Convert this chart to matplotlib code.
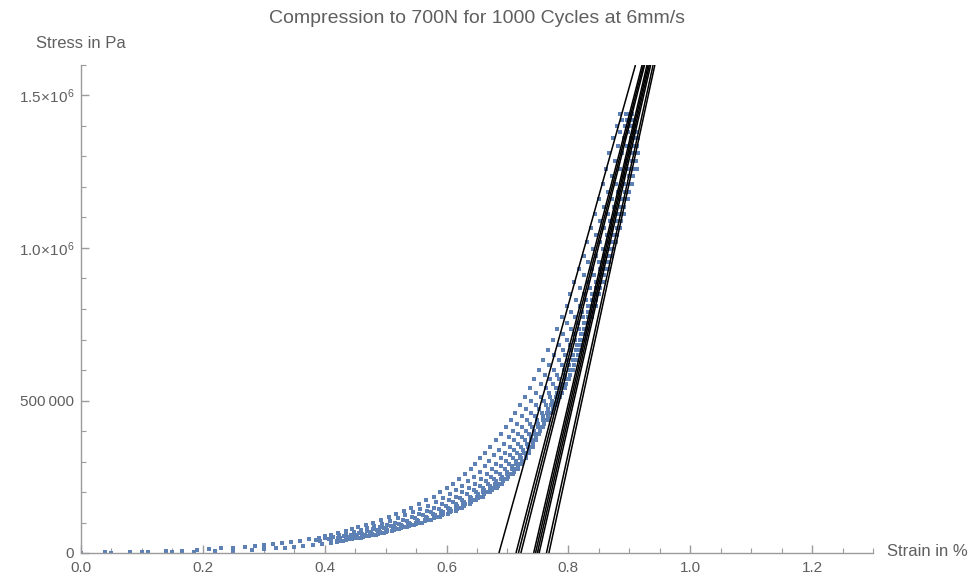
import matplotlib
matplotlib.use("Agg")
import matplotlib.pyplot as plt
from matplotlib.ticker import MultipleLocator, FixedLocator, FixedFormatter
import numpy as np

plt.rcParams['font.family'] = ['Liberation Sans', 'DejaVu Sans']
plt.rcParams['mathtext.fontset'] = 'custom'
plt.rcParams['mathtext.rm'] = 'Liberation Sans'
plt.rcParams['mathtext.it'] = 'Liberation Sans'

# ---- recorded stress levels (kPa) ----
stress_kpa = [1, 2, 3, 4.5, 6, 8, 10, 12.5, 15, 17.5, 20, 23, 26, 29.5, 33, 36.5,
              40, 45, 50, 55, 60, 66, 72, 78.5, 85, 92.5, 100, 109, 118, 128, 138,
              149, 160, 172.5, 185, 198.5, 212, 227, 242, 258.5, 275, 292.5, 310,
              329, 348, 369, 390, 412.5, 435, 460, 485, 512.5, 540, 570, 600, 632.5,
              665, 700, 735, 772.5, 810, 850, 890, 932.5, 975, 1020, 1065, 1112.5,
              1160, 1210, 1260, 1310, 1360, 1400, 1440]
stress_kpa_alt = [42, 48, 52, 58, 63, 69, 75, 82, 89, 96, 104, 114, 123, 133, 144,
                  155, 166, 179, 192, 205, 220, 235, 250, 267, 284, 301, 320, 338,
                  358, 380, 401, 424, 448, 472, 499, 526, 555, 585, 616, 649, 682,
                  718, 754, 791, 830, 870, 911, 954, 998, 1042, 1089, 1136, 1185,
                  1235, 1285, 1335, 1380, 1420]

# ---- strain (%) of each cycle; a shorter trace covers the top of the stress list ----
strain_cycle_a = [0.000, 0.040, 0.080, 0.110, 0.140, 0.165, 0.190, 0.210, 0.230, 0.250,
                  0.270, 0.285, 0.300, 0.315, 0.330, 0.345, 0.360, 0.375, 0.390, 0.400,
                  0.410, 0.422, 0.435, 0.445, 0.455, 0.467, 0.480, 0.492, 0.505, 0.517,
                  0.530, 0.542, 0.555, 0.567, 0.580, 0.590, 0.600, 0.610, 0.620, 0.630,
                  0.640, 0.647, 0.655, 0.663, 0.672, 0.681, 0.690, 0.697, 0.705, 0.712,
                  0.720, 0.728, 0.737, 0.744, 0.752, 0.759, 0.767, 0.774, 0.782, 0.789,
                  0.797, 0.803, 0.810, 0.817, 0.825, 0.831, 0.837, 0.843, 0.850, 0.856,
                  0.862, 0.867, 0.873, 0.879, 0.885]
strain_cycle_c = [0.392, 0.407, 0.422, 0.432, 0.444, 0.456, 0.469, 0.480, 0.491, 0.503,
                  0.516, 0.529, 0.543, 0.555, 0.568, 0.580, 0.592, 0.604, 0.616, 0.626,
                  0.637, 0.646, 0.656, 0.666, 0.675, 0.682, 0.689, 0.696, 0.704, 0.711,
                  0.718, 0.724, 0.732, 0.739, 0.747, 0.755, 0.763, 0.770, 0.777, 0.784,
                  0.791, 0.797, 0.805, 0.811, 0.819, 0.825, 0.832, 0.839, 0.846, 0.852,
                  0.859, 0.865, 0.872, 0.878, 0.885, 0.888, 0.892, 0.893, 0.894]
strain_cycle_e = [0.410, 0.425, 0.440, 0.452, 0.464, 0.476, 0.489, 0.500, 0.513, 0.525,
                  0.538, 0.552, 0.566, 0.578, 0.591, 0.602, 0.615, 0.626, 0.638, 0.648,
                  0.660, 0.668, 0.678, 0.687, 0.696, 0.702, 0.709, 0.716, 0.722, 0.729,
                  0.735, 0.741, 0.749, 0.756, 0.763, 0.770, 0.779, 0.785, 0.792, 0.799,
                  0.805, 0.811, 0.818, 0.824, 0.832, 0.838, 0.845, 0.852, 0.859, 0.865,
                  0.872, 0.878, 0.885, 0.891, 0.898, 0.901, 0.903, 0.901, 0.899]
strain_cycle_g = [0.424, 0.439, 0.454, 0.466, 0.478, 0.490, 0.503, 0.515, 0.528, 0.540,
                  0.553, 0.568, 0.582, 0.594, 0.607, 0.618, 0.631, 0.642, 0.653, 0.664,
                  0.676, 0.684, 0.693, 0.702, 0.711, 0.717, 0.723, 0.729, 0.736, 0.741,
                  0.746, 0.753, 0.761, 0.768, 0.775, 0.782, 0.790, 0.796, 0.803, 0.809,
                  0.815, 0.821, 0.828, 0.834, 0.841, 0.847, 0.854, 0.861, 0.868, 0.874,
                  0.881, 0.887, 0.894, 0.901, 0.908, 0.910, 0.911, 0.907, 0.903]
strain_cycle_i = [0.421, 0.436, 0.451, 0.463, 0.475, 0.487, 0.500, 0.512, 0.525, 0.537,
                  0.550, 0.564, 0.579, 0.591, 0.604, 0.615, 0.627, 0.638, 0.650, 0.660,
                  0.672, 0.680, 0.690, 0.699, 0.708, 0.714, 0.720, 0.727, 0.733, 0.738,
                  0.744, 0.750, 0.758, 0.765, 0.772, 0.779, 0.787, 0.794, 0.801, 0.807,
                  0.813, 0.819, 0.826, 0.832, 0.839, 0.845, 0.852, 0.859, 0.866, 0.872,
                  0.879, 0.885, 0.892, 0.899, 0.906, 0.908, 0.910, 0.906, 0.902]
strain_cycle_h = [0.050, 0.100, 0.150, 0.185, 0.220, 0.250, 0.280, 0.300, 0.320, 0.335,
                  0.350, 0.365, 0.380, 0.395, 0.410, 0.420, 0.430, 0.445, 0.460, 0.472,
                  0.485, 0.497, 0.510, 0.522, 0.535, 0.547, 0.560, 0.575, 0.590, 0.602,
                  0.615, 0.626, 0.638, 0.649, 0.660, 0.671, 0.683, 0.691, 0.700, 0.709,
                  0.718, 0.724, 0.730, 0.736, 0.742, 0.747, 0.752, 0.758, 0.766, 0.773,
                  0.780, 0.787, 0.795, 0.801, 0.808, 0.814, 0.820, 0.826, 0.832, 0.838,
                  0.845, 0.851, 0.858, 0.865, 0.872, 0.878, 0.885, 0.891, 0.898, 0.905,
                  0.912, 0.914, 0.915, 0.910, 0.905]

# cycles sampled at the alternate stress levels
strain_cycle_b = [0.386, 0.401, 0.413, 0.424, 0.435, 0.448, 0.459, 0.470, 0.481, 0.494,
                  0.507, 0.520, 0.532, 0.545, 0.557, 0.570, 0.582, 0.594, 0.605, 0.616,
                  0.626, 0.635, 0.645, 0.655, 0.663, 0.670, 0.678, 0.686, 0.694, 0.702,
                  0.709, 0.716, 0.724, 0.731, 0.739, 0.747, 0.755, 0.762, 0.769, 0.777,
                  0.784, 0.791, 0.798, 0.805, 0.812, 0.819, 0.826, 0.833, 0.840, 0.846,
                  0.852, 0.859, 0.865, 0.871, 0.877, 0.881, 0.885, 0.888]
strain_cycle_d = [0.410, 0.425, 0.438, 0.449, 0.461, 0.474, 0.486, 0.497, 0.509, 0.522,
                  0.535, 0.549, 0.562, 0.575, 0.587, 0.599, 0.611, 0.622, 0.634, 0.645,
                  0.655, 0.664, 0.673, 0.682, 0.690, 0.697, 0.704, 0.711, 0.718, 0.724,
                  0.731, 0.737, 0.745, 0.752, 0.760, 0.768, 0.775, 0.782, 0.789, 0.795,
                  0.802, 0.809, 0.815, 0.822, 0.829, 0.835, 0.842, 0.850, 0.856, 0.863,
                  0.869, 0.875, 0.882, 0.889, 0.894, 0.897, 0.898, 0.897]
strain_cycle_f = [0.425, 0.440, 0.453, 0.466, 0.478, 0.491, 0.503, 0.515, 0.527, 0.540,
                  0.553, 0.568, 0.581, 0.594, 0.606, 0.617, 0.629, 0.640, 0.651, 0.662,
                  0.672, 0.681, 0.691, 0.700, 0.707, 0.714, 0.720, 0.726, 0.732, 0.738,
                  0.744, 0.750, 0.759, 0.766, 0.773, 0.781, 0.788, 0.794, 0.801, 0.807,
                  0.814, 0.820, 0.826, 0.833, 0.839, 0.846, 0.853, 0.860, 0.867, 0.873,
                  0.879, 0.886, 0.893, 0.900, 0.904, 0.907, 0.906, 0.903]
strain_cycle_j = [0.435, 0.450, 0.463, 0.476, 0.488, 0.500, 0.513, 0.525, 0.538, 0.550,
                  0.564, 0.579, 0.593, 0.605, 0.617, 0.629, 0.640, 0.651, 0.662, 0.674,
                  0.684, 0.692, 0.701, 0.710, 0.718, 0.724, 0.730, 0.736, 0.742, 0.747,
                  0.753, 0.760, 0.767, 0.774, 0.781, 0.789, 0.796, 0.802, 0.809, 0.815,
                  0.821, 0.827, 0.833, 0.839, 0.846, 0.852, 0.859, 0.866, 0.873, 0.879,
                  0.886, 0.892, 0.899, 0.906, 0.911, 0.913, 0.911, 0.906]

# ---- linear fits of the upper loading segment of each cycle ----
fit_strain_at_zero = [0.686, 0.714, 0.718, 0.722, 0.743, 0.746, 0.749, 0.752,
                      0.764, 0.768]
fit_modulus = [7.14e6, 7.73e6, 7.80e6, 7.88e6, 8.60e6, 8.65e6, 8.70e6, 8.74e6,
               9.14e6, 9.20e6]  # Pa per % strain

# ---- axes settings ----
x_major_ticks = [0.0, 0.2, 0.4, 0.6, 0.8, 1.0, 1.2]
x_tick_labels = ["0.0", "0.2", "0.4", "0.6", "0.8", "1.0", "1.2"]
y_major_ticks = [0, 500000, 1000000, 1500000]
y_tick_labels = ["0", "500\u2009000", r"$1.0\!\times\!10^{6}$", r"$1.5\!\times\!10^{6}$"]

POINT_COLOR = "#5E81B5"
AXIS_COLOR = "#9b9b9b"
TEXT_COLOR = "#5f5f5f"
X_MAX, Y_MAX = 1.3, 1.6e6

fig = plt.figure(figsize=(9.73, 5.82), dpi=100)
ax = fig.add_axes([81 / 973, 29 / 582, 792 / 973, 488 / 582])


def plot_cycles(cycles, levels_kpa):
    levels = np.asarray(levels_kpa) * 1000.0
    for strain in cycles:
        # a trace with fewer readings starts further up the stress list
        ax.scatter(strain, levels[len(levels) - len(strain):], s=7, marker="s",
                   color=POINT_COLOR, linewidths=0, zorder=2)


plot_cycles((strain_cycle_a, strain_cycle_c, strain_cycle_e, strain_cycle_g,
             strain_cycle_i, strain_cycle_h), stress_kpa)
plot_cycles((strain_cycle_b, strain_cycle_d, strain_cycle_f, strain_cycle_j),
            stress_kpa_alt)

for x0, modulus in zip(fit_strain_at_zero, fit_modulus):
    ys = np.array([0.0, Y_MAX])
    ax.plot(x0 + ys / modulus, ys, color="black", lw=1.1, zorder=3,
            solid_capstyle="butt")

ax.set_xlim(0, X_MAX)
ax.set_ylim(0, Y_MAX)

for side in ("top", "right"):
    ax.spines[side].set_visible(False)
for side in ("left", "bottom"):
    ax.spines[side].set_color(AXIS_COLOR)
    ax.spines[side].set_linewidth(1.0)

ax.xaxis.set_major_locator(FixedLocator(x_major_ticks))
ax.xaxis.set_major_formatter(FixedFormatter(x_tick_labels))
ax.xaxis.set_minor_locator(MultipleLocator(0.05))
ax.yaxis.set_major_locator(FixedLocator(y_major_ticks))
ax.yaxis.set_major_formatter(FixedFormatter(y_tick_labels))
ax.yaxis.set_minor_locator(MultipleLocator(100000))

ax.tick_params(which="both", direction="in", color=AXIS_COLOR, labelcolor=TEXT_COLOR,
               labelsize=11)
ax.tick_params(which="major", length=6, width=1.0)
ax.tick_params(axis="x", which="major", pad=6)
ax.tick_params(axis="y", which="major", pad=5)
ax.tick_params(which="minor", length=3.5, width=0.8)

ax.set_title("Compression to 700N for 1000 Cycles at 6mm/s", color=TEXT_COLOR,
             fontsize=14, pad=30)
fig.text(81 / 973, 1 - 44 / 582, "Stress in Pa", color=TEXT_COLOR, fontsize=12,
         ha="center", va="center")
fig.text(887 / 973, 1 - 552 / 582, "Strain in %", color=TEXT_COLOR, fontsize=12,
         ha="left", va="center")

fig.savefig("out.png", dpi=100)
